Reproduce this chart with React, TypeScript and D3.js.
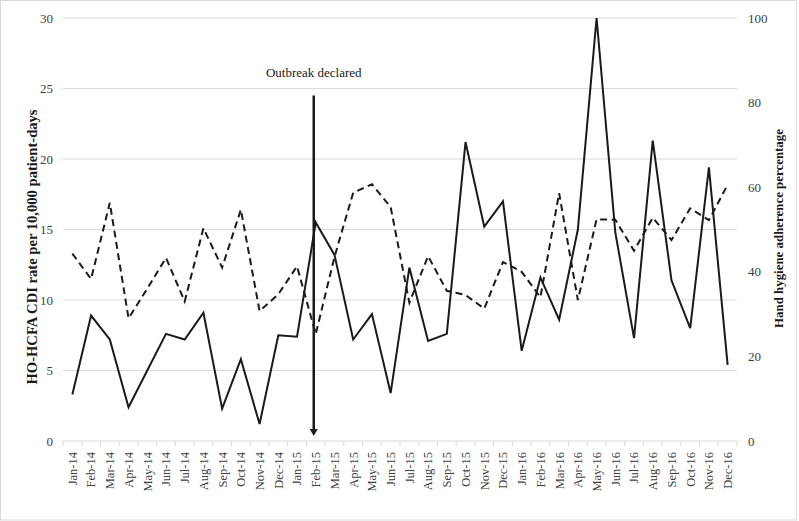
import React from "react";
import * as d3 from "d3";

const months = [
  "Jan-14","Feb-14","Mar-14","Apr-14","May-14","Jun-14","Jul-14","Aug-14","Sep-14","Oct-14","Nov-14","Dec-14",
  "Jan-15","Feb-15","Mar-15","Apr-15","May-15","Jun-15","Jul-15","Aug-15","Sep-15","Oct-15","Nov-15","Dec-15",
  "Jan-16","Feb-16","Mar-16","Apr-16","May-16","Jun-16","Jul-16","Aug-16","Sep-16","Oct-16","Nov-16","Dec-16",
];

// CDI rate (left axis, solid)
const cdiRate = [
  3.3, 8.9, 7.2, 2.4, 5.0, 7.6, 7.2, 9.1, 2.3, 5.8, 1.2, 7.5,
  7.4, 15.5, 13.2, 7.2, 9.0, 3.4, 12.3, 7.1, 7.6, 21.2, 15.2, 17.0,
  6.4, 11.6, 8.6, 15.0, 30.0, 14.8, 7.3, 21.3, 11.4, 8.0, 19.4, 5.4,
];

// Hand hygiene adherence % (right axis, dashed)
const handHygiene = [
  44.3, 38.3, 56.3, 29.0, 36.0, 43.3, 33.0, 50.3, 41.0, 54.7, 30.7, 34.7,
  41.3, 25.3, 43.5, 58.7, 60.7, 55.3, 32.7, 43.7, 35.5, 34.5, 31.3, 42.3,
  40.0, 34.0, 58.6, 33.3, 52.4, 52.3, 45.0, 52.8, 47.5, 55.0, 52.2, 60.6,
];

const leftTicks = [0, 5, 10, 15, 20, 25, 30];
const rightTicks = [0, 20, 40, 60, 80, 100];
const outbreakMonth = "Feb-15";
const outbreakLabel = "Outbreak declared";
const leftTitle = "HO-HCFA CDI rate per 10,000 patient-days";
const rightTitle = "Hand hygiene adherence percentage";

export default function App() {
  const W = 799, H = 521;
  const m = { left: 63, right: 737, top: 18, bottom: 441 };
  const font = '"Liberation Serif", "Times New Roman", serif';

  const x = d3.scaleBand<string>().domain(months).range([m.left, m.right]).padding(0);
  const cx = (mo: string) => (x(mo) as number) + x.bandwidth() / 2;
  const yL = d3.scaleLinear().domain([0, 30]).range([m.bottom, m.top]);
  const yR = d3.scaleLinear().domain([0, 100]).range([m.bottom, m.top]);

  const solidLine = d3.line<number>().x((_, i) => cx(months[i])).y((d) => yL(d))(cdiRate) as string;
  const dashLine = d3.line<number>().x((_, i) => cx(months[i])).y((d) => yR(d))(handHygiene) as string;

  const ax = cx(outbreakMonth) - 2;
  const arrowTop = yL(24.5);
  const arrowBottom = m.bottom - 6;

  return (
    <svg width={W} height={H} style={{ position: "absolute", left: 0, top: 0 }} fontFamily={font}>
      <rect x={0.5} y={0.5} width={W - 3} height={H - 1.5} fill="#fff" stroke="#d9d9d9" />
      {leftTicks.filter((t) => t > 0).map((t) => (
        <line key={t} x1={m.left} x2={m.right} y1={yL(t)} y2={yL(t)} stroke="#d9d9d9" strokeWidth={1} />
      ))}
      <line x1={m.left} x2={m.right} y1={m.bottom} y2={m.bottom} stroke="#d9d9d9" strokeWidth={1} />
      {months.map((mo, i) => (
        <line key={"t" + i} x1={x(mo) as number} x2={x(mo) as number} y1={m.bottom} y2={m.bottom + 5} stroke="#d9d9d9" />
      ))}
      <line x1={m.right} x2={m.right} y1={m.bottom} y2={m.bottom + 5} stroke="#d9d9d9" />
      {leftTicks.map((t) => (
        <text key={t} x={53} y={yL(t)} dy="0.35em" textAnchor="end" fontSize={13} fill="#404040">{t}</text>
      ))}
      {rightTicks.map((t) => (
        <text key={t} x={748} y={yR(t)} dy="0.35em" textAnchor="start" fontSize={13} fill="#404040">{t}</text>
      ))}
      {months.map((mo) => (
        <text key={mo} transform={`translate(${cx(mo)},${m.bottom + 11}) rotate(-90)`} dy="0.35em" textAnchor="end" fontSize={12.5} fill="#404040">{mo}</text>
      ))}
      <text transform={`translate(32,247) rotate(-90)`} dy="0.35em" textAnchor="middle" fontSize={14.6} fontWeight="bold" fill="#1a1a1a">{leftTitle}</text>
      <text transform={`translate(778,228.5) rotate(-90)`} dy="0.35em" textAnchor="middle" fontSize={12.9} fontWeight="bold" fill="#1a1a1a">{rightTitle}</text>
      <path d={dashLine} fill="none" stroke="#1a1a1a" strokeWidth={2} strokeDasharray="7,4.5" />
      <path d={solidLine} fill="none" stroke="#1a1a1a" strokeWidth={2} />
      <line x1={ax} x2={ax} y1={arrowTop} y2={arrowBottom - 4} stroke="#1a1a1a" strokeWidth={2.5} />
      <path d={`M${ax - 4},${arrowBottom - 6} L${ax + 4},${arrowBottom - 6} L${ax},${arrowBottom + 1} Z`} fill="#1a1a1a" />
      <text x={ax} y={77} textAnchor="middle" fontSize={13} fill="#1a1a1a">{outbreakLabel}</text>
    </svg>
  );
}
